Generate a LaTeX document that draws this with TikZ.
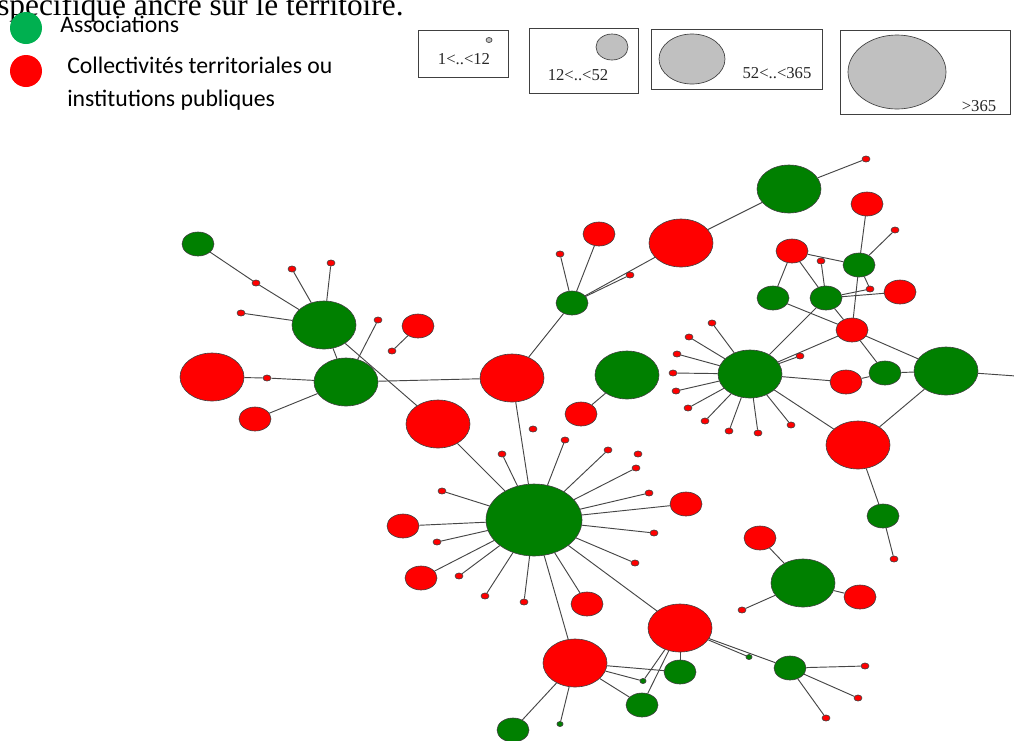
\documentclass[tikz,border=0pt]{standalone}
\usepackage{fontspec}
\setmainfont{Liberation Serif}
\newfontfamily\legfont{Carlito}
\usetikzlibrary{shapes.geometric,backgrounds}
\definecolor{ngreen}{RGB}{0,128,0}
\definecolor{nred}{RGB}{255,0,0}
\definecolor{lgreen}{RGB}{0,176,80}
\definecolor{lgray}{RGB}{192,192,192}
\definecolor{lnk}{RGB}{70,70,70}
\begin{document}
\begin{tikzpicture}[x=0.75pt,y=-0.75pt,
  nd/.style={ellipse,draw=black!75,line width=0.45pt,inner sep=0pt},
  dot/.style={nd,fill=nred,minimum width=6pt,minimum height=4.6pt},
  tg/.style={nd,fill=ngreen,minimum width=4.6pt,minimum height=3.8pt},
  sr/.style={nd,fill=nred,minimum width=24pt,minimum height=18pt},
  sg/.style={nd,fill=ngreen,minimum width=24pt,minimum height=18pt},
  mr/.style={nd,fill=nred,minimum width=48pt,minimum height=36pt},
  mg/.style={nd,fill=ngreen,minimum width=48pt,minimum height=36pt},
  hubn/.style={nd,fill=ngreen,minimum width=72pt,minimum height=54pt},
  link/.style={draw=lnk,line width=0.7pt},
  lbox/.style={draw=black!75,line width=0.7pt,rectangle,inner sep=0pt},
  gcirc/.style={ellipse,draw=black!75,line width=0.5pt,fill=lgray,inner sep=0pt},
  ltxt/.style={font=\fontsize{12.5}{14}\selectfont,text=black!85,inner sep=0pt},
  legt/.style={anchor=base west,inner sep=0pt,font=\legfont\fontsize{17.8}{21}\selectfont}
]
\useasboundingbox (0,0) rectangle (1014,740);
\begin{scope}[on background layer]
\fill[white] (0,0) rectangle (1014,740);
\end{scope}

% title (cut at top)
\node[anchor=base west,inner sep=0pt,font=\fontsize{23.5}{28}\selectfont] (title) at (-3,15) {spécifique ancré sur le territoire.};

% colour legend
\node[circle,fill=lgreen,minimum size=24pt,inner sep=0pt] (lg) at (26,28) {};
\node[circle,fill=nred,minimum size=24pt,inner sep=0pt] (lr) at (26,71) {};
\node[legt] (la) at (60,32) {Associations};
\node[legt] (lc) at (67,73) {Collectivités territoriales ou};
\node[legt] (li) at (67,106) {institutions publiques};

% size legend
\node[lbox,minimum width=67.5pt,minimum height=35.25pt] (b1) at (463,53.5) {};
\node[lbox,minimum width=81.75pt,minimum height=48.75pt] (b2) at (583.5,60.5) {};
\node[lbox,minimum width=128.25pt,minimum height=45pt] (b3) at (736.5,59) {};
\node[lbox,minimum width=127.5pt,minimum height=63pt] (b4) at (925,72) {};
\node[gcirc,minimum width=4.5pt,minimum height=3.75pt] (c1) at (489,40) {};
\node[gcirc,minimum width=24pt,minimum height=19.5pt] (c2) at (612,47) {};
\node[gcirc,minimum width=49.5pt,minimum height=37.5pt] (c3) at (692,59) {};
\node[gcirc,minimum width=73.5pt,minimum height=55.5pt] (c4) at (897,72) {};
\node[ltxt] (t1) at (464,59) {1<..<12};
\node[ltxt] (t2) at (578,75) {12<..<52};
\node[ltxt] (t3) at (777,73) {52<..<365};
\node[ltxt] (t4) at (979,106) {>365};

% ---------- nodes ----------
% left cluster
\node[sg] (G1) at (198,244) {};
\node[dot] (d1) at (256,283) {};
\node[dot] (d2) at (292,269) {};
\node[dot] (d3) at (331,263) {};
\node[dot] (d4) at (241,313) {};
\node[mg] (G2) at (324,325) {};
\node[dot] (d5) at (378,320) {};
\node[sr] (R1) at (418,326) {};
\node[dot] (d6) at (392,351) {};
\node[mg] (G3) at (346,382) {};
\node[mr] (R2) at (212,377) {};
\node[dot] (d7) at (267,378) {};
\node[sr] (R3) at (255,419) {};
\node[mr] (R4) at (438,424) {};
\node[mr] (R5) at (512,378) {};
% upper middle / right
\node[sr] (R6) at (599,234) {};
\node[dot] (d8) at (560,254) {};
\node[dot] (d9) at (630,275) {};
\node[sg] (G4) at (572,303) {};
\node[mr] (R7) at (681,243) {};
\node[mg] (G5) at (789,189) {};
\node[dot] (d10) at (866,159) {};
\node[sr] (R8) at (867,204) {};
\node[dot] (d11) at (895,230) {};
\node[sr] (R9) at (792,251) {};
\node[sg] (G6) at (859,265) {};
\node[dot] (d12) at (821,261) {};
\node[sg] (G7) at (773,298) {};
\node[sg] (G8) at (826,298) {};
\node[dot] (d13) at (870,289) {};
\node[sr] (R10) at (900,292) {};
\node[sr] (R11) at (852,330) {};
\node[mg] (H2) at (750,374) {};
\node[dot] (d14) at (800,356) {};
\node[sr] (R12) at (846,382) {};
\node[sg] (G9) at (885,373) {};
\node[mg] (G10) at (946,371) {};
\coordinate (offR) at (1016,376);
\node[mg] (G11) at (627,375) {};
\node[sr] (R13) at (581,414) {};
\foreach \n/\x/\y in {s1/712/323,s2/689/337,s3/677/354,s4/673/373,s5/676/391,s6/688/408,s7/705/421,s8/729/431,s9/758/433,s10/791/425}
  \node[dot] (\n) at (\x,\y) {};
% right lower
\node[mr] (R14) at (858,445) {};
\node[sg] (G12) at (883,516) {};
\node[dot] (d15) at (894,559) {};
\node[sr] (R15) at (760,538) {};
\node[mg] (G13) at (803,583) {};
\node[sr] (R16) at (860,597) {};
\node[dot] (d16) at (742,610) {};
% hub
\node[hubn] (H) at (534,520) {};
\foreach \n/\x/\y in {h1/502/454,h2/565/440,h3/608/450,h4/636/468,h5/649/493,h6/654/533,h7/635/563,h8/524/602,h9/485/596,h10/459/576,h11/437/542,h12/442/491,iso1/533/429,iso2/638/454}
  \node[dot] (\n) at (\x,\y) {};
\node[sr] (R17) at (686,504) {};
\node[sr] (R18) at (587,604) {};
\node[mr] (R19) at (680,628) {};
\node[mr] (R20) at (575,663) {};
\node[sr] (R21) at (421,578) {};
\node[sr] (R22) at (403,526) {};
% bottom
\node[sg] (G14) at (680,672) {};
\node[tg] (tg1) at (643,681) {};
\node[sg] (G15) at (642,705) {};
\node[sg] (G16) at (513,730) {};
\node[tg] (tg2) at (560,724) {};
\node[tg] (tg3) at (749,657) {};
\node[sg] (G17) at (790,668) {};
\node[dot] (e1) at (865,666) {};
\node[dot] (e2) at (858,698) {};
\node[dot] (e3) at (826,718) {};

% ---------- links ----------
\begin{scope}[on background layer]
\foreach \a/\b in {G1/d1,d1/G2,d2/G2,d3/G2,d4/G2,G2/G3,G2/R4,d5/G3,R1/d6,R2/d7,d7/G3,R3/G3,G3/R5,R4/H,
  R5/G4,G4/d8,G4/R6,G4/d9,G4/R7,R7/G5,G5/d10,R8/G6,G6/d11,R9/G6,G6/d13,G6/R11,R9/G7,R9/G8,d12/G8,G8/d13,G8/R10,
  G7/R11,G8/R11,G8/H2,H2/d14,H2/R11,R11/G9,R11/G10,H2/R12,R12/G9,G9/G10,G10/offR,G10/R14,H2/R14,G11/R13,
  H2/s1,H2/s2,H2/s3,H2/s4,H2/s5,H2/s6,H2/s7,H2/s8,H2/s9,H2/s10,
  R14/G12,G12/d15,R15/G13,G13/R16,G13/d16,
  H/h1,H/h2,H/h3,H/h4,H/h5,H/h6,H/h7,H/h8,H/h9,H/h10,H/h11,H/h12,H/R5,H/R17,H/R18,H/R19,H/R20,H/R21,H/R22,
  R20/G14,R20/tg1,R20/G15,R20/G16,R20/tg2,R19/G14,R19/tg1,R19/G15,R19/tg3,R19/G17,G17/e1,G17/e2,G17/e3}
  \draw[link] (\a) -- (\b);
\end{scope}
\end{tikzpicture}
\end{document}
